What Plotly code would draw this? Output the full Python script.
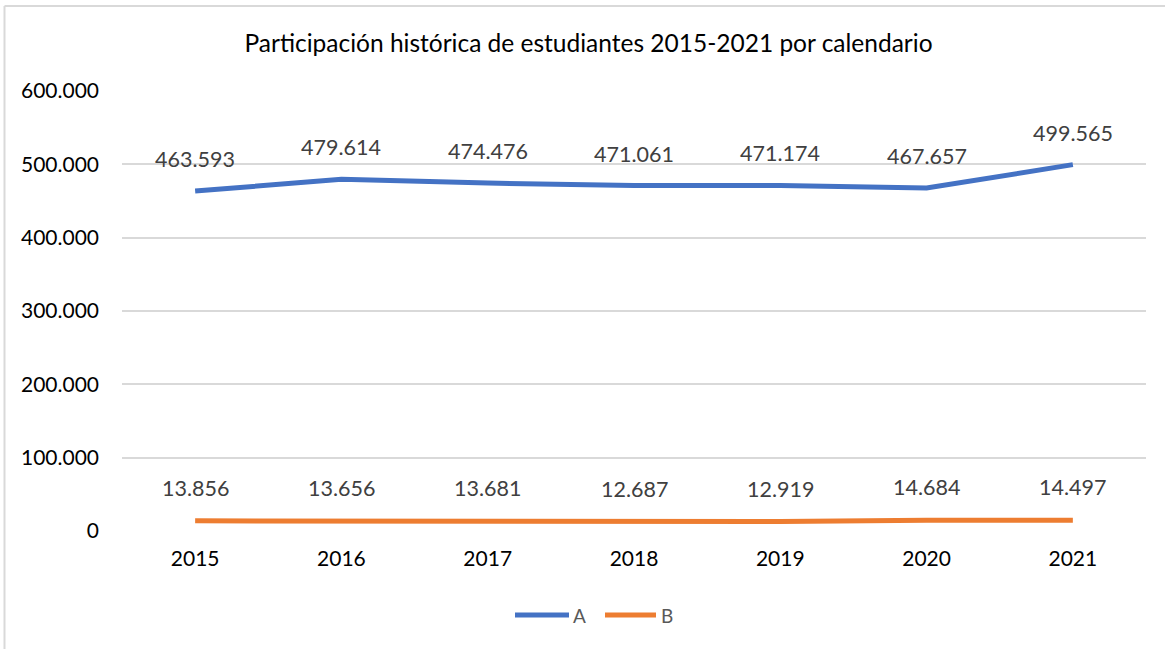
import plotly.graph_objects as go

years = [2015, 2016, 2017, 2018, 2019, 2020, 2021]
serie_a = [463593, 479614, 474476, 471061, 471174, 467657, 499565]
serie_b = [13856, 13656, 13681, 12687, 12919, 14684, 14497]
series_names = ["A", "B"]
series_colors = ["#4472C4", "#ED7D31"]
y_ticks = [0, 100000, 200000, 300000, 400000, 500000, 600000]
y_tick_labels = ["0", "100.000", "200.000", "300.000", "400.000", "500.000", "600.000"]

def fmt(v):
    return f"{v:,}".replace(",", ".")

FONT = "Lato, Open Sans, sans-serif"

# plot area in page pixels
PL, PR, PT, PB = 122, 1146, 91, 531
def px(xp):
    return (xp - PL) / (PR - PL)
def py(yp):
    return (PB - yp) / (PB - PT)

fig = go.Figure()
for name, vals, col in zip(series_names, [serie_a, serie_b], series_colors):
    fig.add_trace(go.Scatter(x=years, y=vals, mode="lines", name=name,
                             line=dict(color=col, width=5), showlegend=False))

annotations = []
for x, v in zip(years, serie_a):
    annotations.append(dict(x=x, y=v, xref="x", yref="y", text=fmt(v), showarrow=False,
                            yshift=32, font=dict(size=21.5, color="#404040", family=FONT)))
for x, v in zip(years, serie_b):
    annotations.append(dict(x=x, y=v, xref="x", yref="y", text=fmt(v), showarrow=False,
                            yshift=33, font=dict(size=21.5, color="#404040", family=FONT)))

shapes = []
# custom legend (long line symbols like the reference)
legend_items = [(515, 569, 571), (605, 656, 659)]
for (x0, x1, xt), name, col in zip(legend_items, series_names, series_colors):
    shapes.append(dict(type="line", xref="paper", yref="paper",
                       x0=px(x0), x1=px(x1), y0=py(615), y1=py(615),
                       line=dict(color=col, width=5)))
    annotations.append(dict(x=px(xt), y=py(615), xref="paper", yref="paper",
                            text=name, showarrow=False, xanchor="left", yanchor="middle",
                            font=dict(size=19, color="#595959", family=FONT)))

# chart border (top and left visible)
shapes.append(dict(type="line", xref="paper", yref="paper",
                   x0=px(4.5), x1=px(1165), y0=py(6), y1=py(6),
                   line=dict(color="#D9D9D9", width=2)))
shapes.append(dict(type="line", xref="paper", yref="paper",
                   x0=px(4.5), x1=px(4.5), y0=py(6), y1=py(649),
                   line=dict(color="#D9D9D9", width=2)))

fig.update_layout(
    width=1165, height=649,
    margin=dict(l=PL, r=1165 - PR, t=PT, b=649 - PB),
    paper_bgcolor="white", plot_bgcolor="white",
    title=dict(text="Participación histórica de estudiantes 2015-2021 por calendario",
               x=588.5 / 1165, xanchor="center", y=1 - 43 / 649, yanchor="middle",
               font=dict(size=24.5, color="#000000", family=FONT)),
    xaxis=dict(range=[2014.5, 2021.5], tickvals=years, ticktext=[str(y) for y in years],
               showgrid=False, showline=False, zeroline=False, ticks="",
               ticklabelstandoff=13,
               tickfont=dict(size=21, color="#000000", family=FONT)),
    yaxis=dict(range=[0, 600000], tickvals=y_ticks, ticktext=y_tick_labels,
               showgrid=True, gridcolor="#D9D9D9", gridwidth=1.5, zeroline=False,
               ticks="", ticklabelstandoff=22,
               tickfont=dict(size=21, color="#000000", family=FONT)),
    annotations=annotations,
    shapes=shapes,
    showlegend=False,
)

fig.write_html("out.html", config={"displayModeBar": False},
               post_script="document.body.style.margin='0px';")
